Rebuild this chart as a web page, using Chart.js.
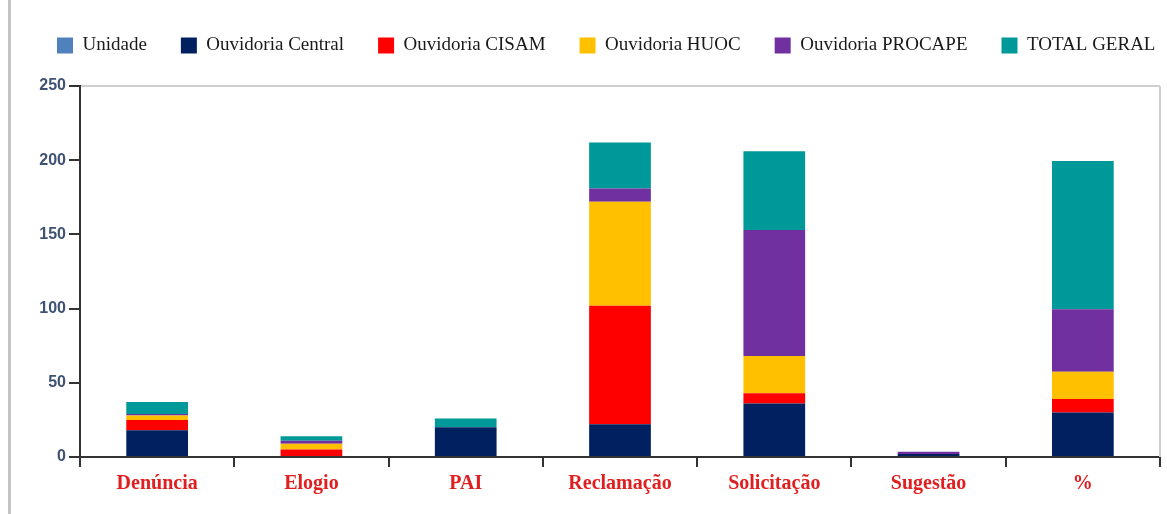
<!DOCTYPE html>
<html lang="pt-BR">
<head>
<meta charset="utf-8">
<title>Manifestações por unidade</title>
<script src="https://cdn.jsdelivr.net/npm/chart.js@4.4.1/dist/chart.umd.min.js"></script>
<style>
  html, body { margin: 0; padding: 0; background: #fff; }
  #wrap { position: relative; width: 1167px; height: 514px; }
  #frame { position: absolute; left: 8px; top: 0; width: 3px; height: 514px; background: #c4c4c4; }
  #graficoOuvidorias { position: absolute; left: 0; top: 0; }
</style>
</head>
<body>
<div id="wrap">
  <div id="frame"></div>
  <canvas id="graficoOuvidorias" width="1167" height="514"></canvas>
</div>
<script>
// dados
const categorias = ['Denúncia', 'Elogio', 'PAI', 'Reclamação', 'Solicitação', 'Sugestão', '%'];
const unidade   = [0, 0, 0, 0, 0, 0, 0];
const central   = [18, 0, 20, 22, 36, 2, 30];
const cisam     = [7, 5, 0, 80, 7, 0, 9];
const huoc      = [3, 4, 0, 70, 25, 0, 18.5];
const procape   = [1, 2, 0, 9, 85, 1.5, 42];
const totalGeral = [8, 3, 6, 31, 53, 0, 100];
const yTicks = [0, 50, 100, 150, 200, 250];

document.addEventListener('DOMContentLoaded', () => {
  const canvas = document.getElementById('graficoOuvidorias');
  if (!canvas) return;

  const legendPad = 34;

  // legenda mais alta para empurrar a área do gráfico para baixo,
  // começando em x=57 como no original e sem quebrar linha
  const legendSpacer = {
    id: 'legendSpacer',
    beforeInit(chart) {
      const origFit = chart.legend.fit;
      chart.legend.fit = function () {
        origFit.bind(chart.legend)();
        this.height = 84;
      };
    },
    afterLayout(chart) {
      chart.legend.left = 57 - legendPad;
      chart.legend.right = 1300;
    }
  };

  // borda cinza clara à direita da área de plotagem
  const plotBorder = {
    id: 'plotBorder',
    beforeDatasetsDraw(chart) {
      const { ctx, chartArea: a } = chart;
      ctx.save();
      ctx.strokeStyle = '#cfcfcf';
      ctx.lineWidth = 2;
      ctx.beginPath();
      ctx.moveTo(a.right, a.top);
      ctx.lineTo(a.right, a.bottom);
      ctx.stroke();
      ctx.restore();
    }
  };

  const serie = (label, data, color) => ({
    label,
    data,
    backgroundColor: color,
    borderWidth: 0,
    barPercentage: 0.4,
    categoryPercentage: 1
  });

  new Chart(canvas.getContext('2d'), {
    type: 'bar',
    data: {
      labels: categorias,
      datasets: [
        serie('Unidade', unidade, '#4F81BD'),
        serie('Ouvidoria Central', central, '#002060'),
        serie('Ouvidoria CISAM', cisam, '#FF0000'),
        serie('Ouvidoria HUOC', huoc, '#FFC000'),
        serie('Ouvidoria PROCAPE', procape, '#7030A0'),
        serie('TOTAL GERAL', totalGeral, '#009999')
      ]
    },
    options: {
      responsive: false,
      animation: false,
      layout: { padding: { top: 2, right: 7, bottom: 0, left: 0 } },
      plugins: {
        legend: {
          display: true,
          position: 'top',
          align: 'start',
          labels: {
            boxWidth: 16,
            boxHeight: 16,
            padding: legendPad,
            color: '#1a1a1a',
            font: { family: '"Liberation Serif", serif', size: 19 }
          }
        },
        tooltip: { enabled: false }
      },
      scales: {
        x: {
          stacked: true,
          afterFit: (scale) => { scale.height = 57; },
          border: { display: true, color: '#333', width: 2 },
          grid: {
            offset: true,
            drawOnChartArea: false,
            tickColor: '#333',
            tickLength: 10,
            lineWidth: 2
          },
          ticks: {
            color: '#E02020',
            padding: 5,
            font: { family: '"Liberation Serif", serif', size: 20, weight: 'bold' }
          }
        },
        y: {
          stacked: true,
          min: 0,
          max: 250,
          afterFit: (scale) => { scale.width = 80; },
          afterBuildTicks: (scale) => { scale.ticks = yTicks.map(v => ({ value: v })); },
          border: { display: true, color: '#333', width: 2 },
          grid: {
            drawOnChartArea: true,
            color: (ctx) => ctx.tick && ctx.tick.value === 250 ? '#cfcfcf' : 'rgba(0,0,0,0)',
            tickColor: '#333',
            tickLength: 11,
            lineWidth: 2
          },
          ticks: {
            color: '#3E5273',
            padding: 3,
            font: { family: '"Liberation Sans", sans-serif', size: 16, weight: 'bold' }
          }
        }
      }
    },
    plugins: [legendSpacer, plotBorder]
  });
});
</script>
</body>
</html>
